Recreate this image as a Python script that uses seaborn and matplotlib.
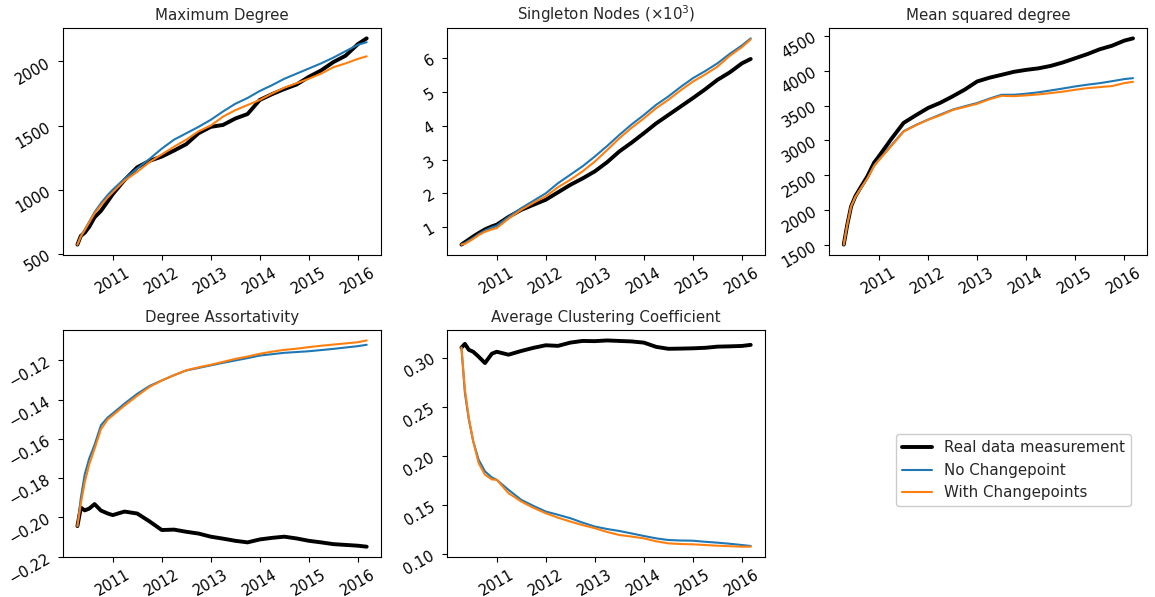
import numpy as np
import pandas as pd
import matplotlib
matplotlib.use("Agg")
import matplotlib.pyplot as plt
import seaborn as sns

years = [2010.28, 2010.35, 2010.43, 2010.52, 2010.63, 2010.76, 2010.9, 2011.0,
         2011.24, 2011.5, 2011.75, 2012.0, 2012.25, 2012.5, 2012.75, 2013.0,
         2013.25, 2013.5, 2013.75, 2014.0, 2014.25, 2014.5, 2014.75, 2015.0,
         2015.25, 2015.5, 2015.75, 2016.0, 2016.18]

series_names = ["Real data measurement", "No Changepoint", "With Changepoints"]
titles = ["Maximum Degree", r"Singleton Nodes ($\times10^3$)", "Mean squared degree",
          "Degree Assortativity", "Average Clustering Coefficient"]
year_ticks = [2011, 2012, 2013, 2014, 2015, 2016]
y_ticks = [
    [500, 1000, 1500, 2000],
    [1, 2, 3, 4, 5, 6],
    [1500, 2000, 2500, 3000, 3500, 4000, 4500],
    [-0.22, -0.20, -0.18, -0.16, -0.14, -0.12],
    [0.10, 0.15, 0.20, 0.25, 0.30],
]

maxdeg_real = [572, 640, 665, 710, 785, 835, 910, 965, 1075, 1175, 1225, 1258, 1305, 1355, 1440,
               1490, 1505, 1555, 1590, 1700, 1745, 1785, 1820, 1880, 1930, 1995, 2045, 2135, 2180]
maxdeg_nocp = [572, 640, 690, 750, 825, 895, 960, 1000, 1085, 1165, 1240, 1320, 1390, 1440, 1490,
               1545, 1610, 1670, 1715, 1770, 1815, 1865, 1905, 1945, 1985, 2030, 2080, 2130, 2150]
maxdeg_cp = [572, 635, 685, 745, 815, 880, 940, 980, 1070, 1140, 1215, 1275, 1335, 1390, 1455,
             1500, 1570, 1620, 1660, 1700, 1750, 1795, 1830, 1865, 1905, 1955, 1985, 2020, 2040]

single_real = [0.48, 0.55, 0.63, 0.72, 0.82, 0.93, 1.02, 1.07, 1.30, 1.51, 1.66, 1.81, 2.03, 2.25, 2.44,
               2.65, 2.92, 3.24, 3.50, 3.78, 4.07, 4.32, 4.57, 4.82, 5.08, 5.36, 5.58, 5.85, 5.98]
single_nocp = [0.48, 0.53, 0.60, 0.68, 0.79, 0.90, 0.99, 1.04, 1.30, 1.56, 1.78, 2.00, 2.30, 2.55, 2.80,
               3.09, 3.40, 3.73, 4.04, 4.32, 4.62, 4.87, 5.15, 5.41, 5.62, 5.85, 6.13, 6.38, 6.59]
single_cp = [0.48, 0.50, 0.57, 0.65, 0.76, 0.86, 0.93, 0.97, 1.25, 1.51, 1.72, 1.91, 2.18, 2.40, 2.65,
             2.94, 3.28, 3.63, 3.94, 4.22, 4.52, 4.77, 5.05, 5.31, 5.52, 5.75, 6.07, 6.33, 6.56]

msd_real = [1500, 1780, 2050, 2200, 2330, 2480, 2680, 2773, 3010, 3250, 3360, 3465, 3540, 3632, 3730,
            3846, 3900, 3942, 3985, 4013, 4035, 4070, 4120, 4180, 4240, 4309, 4360, 4433, 4466]
msd_nocp = [1500, 1780, 2050, 2190, 2310, 2450, 2640, 2726, 2920, 3131, 3220, 3298, 3370, 3441, 3490,
            3536, 3600, 3655, 3655, 3670, 3690, 3717, 3745, 3775, 3800, 3822, 3850, 3880, 3894]
msd_cp = [1500, 1780, 2050, 2190, 2310, 2450, 2630, 2715, 2910, 3125, 3215, 3295, 3360, 3435, 3480,
          3525, 3590, 3640, 3635, 3646, 3660, 3679, 3700, 3727, 3750, 3765, 3780, 3822, 3841]

assort_real = [-0.2044, -0.1950, -0.1964, -0.1955, -0.1932, -0.1965, -0.1980, -0.1988, -0.1970, -0.1980,
               -0.2020, -0.2064, -0.2062, -0.2073, -0.2082, -0.2098, -0.2108, -0.2119, -0.2127, -0.2112,
               -0.2104, -0.2098, -0.2107, -0.2119, -0.2127, -0.2136, -0.2140, -0.2144, -0.2149]
assort_nocp = [-0.2044, -0.190, -0.178, -0.170, -0.163, -0.153, -0.149, -0.147, -0.142, -0.137,
               -0.133, -0.1302, -0.1275, -0.1251, -0.1238, -0.1225, -0.1212, -0.1200, -0.1188, -0.1175,
               -0.1168, -0.1161, -0.1157, -0.1153, -0.1147, -0.1141, -0.1134, -0.1127, -0.1120]
assort_cp = [-0.2044, -0.193, -0.182, -0.173, -0.165, -0.155, -0.150, -0.148, -0.143, -0.138,
             -0.1335, -0.1302, -0.1275, -0.1250, -0.1235, -0.1222, -0.1207, -0.1192, -0.1180, -0.1166,
             -0.1155, -0.1146, -0.1140, -0.1132, -0.1125, -0.1119, -0.1113, -0.1107, -0.1098]

clust_real = [0.3102, 0.3140, 0.3080, 0.3060, 0.3010, 0.2945, 0.3040, 0.3060, 0.3030, 0.3068,
              0.3100, 0.3126, 0.3120, 0.3153, 0.3170, 0.3168, 0.3175, 0.3170, 0.3165, 0.3153,
              0.3110, 0.3090, 0.3092, 0.3095, 0.3100, 0.3112, 0.3115, 0.3119, 0.3130]
clust_nocp = [0.3102, 0.2642, 0.2370, 0.2148, 0.1961, 0.1842, 0.1780, 0.1756, 0.1654, 0.1552,
              0.1490, 0.1433, 0.1400, 0.1365, 0.1320, 0.1280, 0.1255, 0.1235, 0.1210, 0.1184,
              0.1160, 0.1143, 0.1138, 0.1136, 0.1125, 0.1116, 0.1105, 0.1092, 0.1082]
clust_cp = [0.3102, 0.2676, 0.2387, 0.2148, 0.1927, 0.1808, 0.1760, 0.1756, 0.1620, 0.1535,
            0.1470, 0.1416, 0.1370, 0.1331, 0.1295, 0.1263, 0.1225, 0.1194, 0.1178, 0.1160,
            0.1130, 0.1109, 0.1102, 0.1099, 0.1092, 0.1085, 0.1080, 0.1075, 0.1075]

panels = [
    (maxdeg_real, maxdeg_nocp, maxdeg_cp),
    (single_real, single_nocp, single_cp),
    (msd_real, msd_nocp, msd_cp),
    (assort_real, assort_nocp, assort_cp),
    (clust_real, clust_nocp, clust_cp),
]
ytick_fmt = [lambda v: f"{v:d}", lambda v: f"{v:d}", lambda v: f"{v:d}",
             lambda v: f"{v:.2f}".replace("-", "\u2212"), lambda v: f"{v:.2f}"]

sns.set_style("ticks")
plt.rcParams['font.family'] = ['DejaVu Sans']
plt.rcParams['axes.edgecolor'] = 'black'
plt.rcParams['axes.linewidth'] = 0.8

colors = ["black", "#1f77b4", "#ff7f0e"]
widths = [2.8, 1.5, 1.5]

fig = plt.figure(figsize=(11.55, 5.97), dpi=100)
lefts = [0.0545, 0.387, 0.718]
w = 0.2755
rows = [(0.573, 0.38), (0.067, 0.38)]
axes = []
for i in range(5):
    r, c = divmod(i, 3)
    ax = fig.add_axes([lefts[c], rows[r][0], w, rows[r][1]])
    axes.append(ax)

handles = []
for i, (ax, vals) in enumerate(zip(axes, panels)):
    for name, v, col, lw in zip(series_names, vals, colors, widths):
        df = pd.DataFrame({"year": years, "value": v})
        sns.lineplot(data=df, x="year", y="value", ax=ax, color=col, lw=lw, label=name, legend=False)
    ax.set_title(titles[i], fontsize=10.8)
    ax.set_xlabel("")
    ax.set_ylabel("")
    ax.set_xticks(year_ticks)
    ax.set_xticklabels([str(y) for y in year_ticks])
    ax.set_yticks(y_ticks[i])
    ax.set_yticklabels([ytick_fmt[i](v) for v in y_ticks[i]])
    ax.tick_params(axis='x', labelrotation=30, labelsize=10.5, length=3.5, width=0.8, colors='black')
    ax.tick_params(axis='y', labelrotation=30, labelsize=10.5, length=3.5, width=0.8, colors='black')
    for s in ax.spines.values():
        s.set_visible(True)
        s.set_color('black')
    if i == 0:
        handles = ax.get_lines()[:3]

fig.legend(handles, series_names, loc='upper left', bbox_to_anchor=(0.769, 0.285),
           fontsize=10.8, frameon=True, fancybox=True, edgecolor='#cccccc', framealpha=1)

fig.savefig("out.png", dpi=100)
